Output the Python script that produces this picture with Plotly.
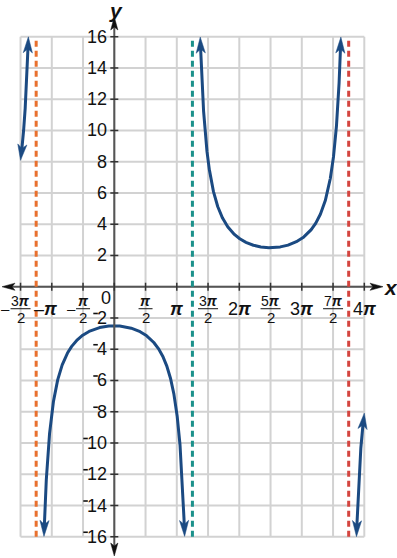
import numpy as np
import plotly.graph_objects as go

# ---------------- data ----------------
PI = np.pi
# function y = A * sec(B * x)
AMPLITUDE = -2.5
FREQ = 0.4
GRID_X_MIN, GRID_X_MAX = -1.5 * PI, 4 * PI
GRID_Y_MIN, GRID_Y_MAX = -16, 16
x_tick_vals = [k * PI / 2 for k in range(-3, 9)]
# (sign, numerator, denominator) ; denominator None => plain label
x_tick_labels = [("-", "3π", "2"), ("-", "π", None), ("-", "π", "2"), ("", "", None),
                 ("", "π", "2"), ("", "π", None), ("", "3π", "2"), ("", "2π", None),
                 ("", "5π", "2"), ("", "3π", None), ("", "7π", "2"), ("", "4π", None)]
y_tick_vals = list(range(-16, 17, 2))
asymptotes = [-1.25 * PI, 1.25 * PI, 3.75 * PI]
asym_colors = ["#e8702e", "#1b918b", "#d4453f"]
segment_domains = [(-1.5 * PI, -1.25 * PI), (-1.25 * PI, 1.25 * PI),
                   (1.25 * PI, 3.75 * PI), (3.75 * PI, 4 * PI)]

# ---------------- layout constants ----------------
W, H = 397, 558
X_RANGE = [-5.745, 14.210]
Y_RANGE = [-17.36, 18.35]
PXX = (X_RANGE[1] - X_RANGE[0]) / W
PXY = (Y_RANGE[1] - Y_RANGE[0]) / H
CURVE = "#1b4a82"
GRID = "#d2d2d2"
AXIS = "#555555"
FONT = "Liberation Sans, Arial, sans-serif"

fig = go.Figure()
shapes = []
ann = []


def to_px(x, y):
    return (np.asarray(x) - X_RANGE[0]) / PXX, (Y_RANGE[1] - np.asarray(y)) / PXY


def to_data(px, py):
    return X_RANGE[0] + px * PXX, Y_RANGE[1] - py * PXY


def arrow_shape(tip_px, dir_px, L, hw, notch, color):
    tx, ty = tip_px
    dx, dy = dir_px
    n = np.hypot(dx, dy)
    dx, dy = dx / n, dy / n
    nx, ny = -dy, dx
    pts = [(tx, ty),
           (tx - L * dx + hw * nx, ty - L * dy + hw * ny),
           (tx - (L - notch) * dx, ty - (L - notch) * dy),
           (tx - L * dx - hw * nx, ty - L * dy - hw * ny)]
    d = []
    for i, (px, py) in enumerate(pts):
        X, Y = to_data(px, py)
        d.append(("M" if i == 0 else "L") + f"{X:.5f},{Y:.5f}")
    return dict(type="path", path=" ".join(d) + " Z", fillcolor=color,
                line=dict(color=color, width=0.5), layer="above")


# grid
for xv in x_tick_vals:
    shapes.append(dict(type="line", x0=xv, x1=xv, y0=GRID_Y_MIN, y1=GRID_Y_MAX,
                       line=dict(color=GRID, width=2), layer="below"))
for yv in y_tick_vals:
    shapes.append(dict(type="line", x0=GRID_X_MIN, x1=GRID_X_MAX, y0=yv, y1=yv,
                       line=dict(color=GRID, width=2), layer="below"))

# axes
ox, oy = to_px(0, 0)
ox, oy = float(ox), float(oy)
x_left_px, x_right_px = 2.0, 383.0
y_top_px, y_bot_px = 17.0, 556.0
xl, _ = to_data(x_left_px + 6, 0)
xr, _ = to_data(x_right_px - 6, 0)
_, yt = to_data(0, y_top_px + 6)
_, yb = to_data(0, y_bot_px - 6)
shapes.append(dict(type="line", x0=xl, x1=xr, y0=0, y1=0, line=dict(color=AXIS, width=2)))
shapes.append(dict(type="line", x0=0, x1=0, y0=yb, y1=yt, line=dict(color=AXIS, width=2)))
for tip, dr in [((x_left_px, oy), (-1, 0)), ((x_right_px, oy), (1, 0)),
                ((ox, y_top_px), (0, -1)), ((ox, y_bot_px), (0, 1))]:
    shapes.append(arrow_shape(tip, dr, 13, 3.6, 3, "#111111"))

# ticks
for xv in x_tick_vals:
    shapes.append(dict(type="line", x0=xv, x1=xv, y0=-4 * PXY, y1=4 * PXY,
                       line=dict(color="#333333", width=1.5)))
for yv in y_tick_vals:
    if yv == 0:
        continue
    shapes.append(dict(type="line", x0=-4 * PXX, x1=4 * PXX, y0=yv, y1=yv,
                       line=dict(color="#333333", width=1.5)))

# asymptotes
for xa, col in zip(asymptotes, asym_colors):
    shapes.append(dict(type="line", x0=xa, x1=xa, y0=GRID_Y_MIN, y1=GRID_Y_MAX,
                       line=dict(color=col, width=3, dash="6px,4px")))

# y tick labels (negative ones get a small raised minus)
DIGIT_W = 10.0
LABEL_RIGHT = 5.0
for yv in y_tick_vals:
    if yv == 0:
        continue
    txt = str(abs(yv))
    ann.append(dict(x=-LABEL_RIGHT * PXX, y=yv, xref="x", yref="y", text=txt, showarrow=False,
                    xanchor="right", yanchor="middle", font=dict(family=FONT, size=18, color="#111")))
    if yv < 0:
        left = LABEL_RIGHT + DIGIT_W * len(txt)
        shapes.append(dict(type="line", x0=-(left + 6) * PXX, x1=-(left + 1.5) * PXX,
                           y0=yv + 4.5 * PXY, y1=yv + 4.5 * PXY,
                           line=dict(color="#111", width=1.6)))
ann.append(dict(x=-8 * PXX, y=-11 * PXY, xref="x", yref="y", text="0", showarrow=False,
                xanchor="center", yanchor="middle", font=dict(family=FONT, size=18, color="#111")))


# x tick labels
def pi_txt(s):
    return s.replace("π", "<b><i>π</i></b>")


for xv, (sign, num, den) in zip(x_tick_vals, x_tick_labels):
    if num == "":
        continue
    if den is None:
        shift = -6 * PXX if sign else 0
        ann.append(dict(x=xv + shift, y=-22 * PXY, xref="x", yref="y",
                        text=("–" if sign else "") + pi_txt(num), showarrow=False,
                        xanchor="center", yanchor="middle",
                        font=dict(family=FONT, size=18, color="#111")))
    else:
        half = 10 if len(num) > 1 else 7
        ann.append(dict(x=xv, y=-14 * PXY, xref="x", yref="y", text=pi_txt(num),
                        showarrow=False, xanchor="center", yanchor="middle",
                        font=dict(family=FONT, size=14, color="#111")))
        ann.append(dict(x=xv, y=-31 * PXY, xref="x", yref="y", text=den,
                        showarrow=False, xanchor="center", yanchor="middle",
                        font=dict(family=FONT, size=15, color="#111")))
        shapes.append(dict(type="line", x0=xv - half * PXX, x1=xv + half * PXX,
                           y0=-22 * PXY, y1=-22 * PXY, line=dict(color="#111", width=1)))
        if sign:
            ann.append(dict(x=xv - (half + 5) * PXX, y=-22 * PXY, xref="x", yref="y", text="–",
                            showarrow=False, xanchor="center", yanchor="middle",
                            font=dict(family=FONT, size=15, color="#111")))

# axis names
ann.append(dict(x=0 + 2 * PXX, y=Y_RANGE[1] - 10 * PXY, xref="x", yref="y",
                text="<b><i>y</i></b>", showarrow=False, xanchor="center", yanchor="middle",
                font=dict(family=FONT, size=21, color="#111")))
ann.append(dict(x=X_RANGE[0] + 391 * PXX, y=-1 * PXY, xref="x", yref="y",
                text="<b><i>x</i></b>", showarrow=False, xanchor="center", yanchor="middle",
                font=dict(family=FONT, size=21, color="#111")))

# curve with arrowheads at both ends
HEAD_L, HEAD_W, HEAD_N = 16, 4.6, 4
for (a, b) in segment_domains:
    xs = np.linspace(a, b, 4000)
    with np.errstate(divide="ignore"):
        ys = AMPLITUDE / np.cos(FREQ * xs)
    keep = np.abs(ys) <= 16
    xs, ys = xs[keep], ys[keep]
    px, py = to_px(xs, ys)
    seg = np.hypot(np.diff(px), np.diff(py))
    s = np.concatenate([[0], np.cumsum(seg)])
    total = s[-1]
    trim = (s >= HEAD_L - 6) & (s <= total - (HEAD_L - 6))
    fig.add_trace(go.Scatter(x=xs[trim], y=ys[trim], mode="lines",
                             line=dict(color=CURVE, width=3),
                             hoverinfo="skip", showlegend=False))
    i0 = np.searchsorted(s, HEAD_L)
    i1 = np.searchsorted(s, total - HEAD_L)
    shapes.append(arrow_shape((px[0], py[0]), (px[0] - px[i0], py[0] - py[i0]),
                              HEAD_L, HEAD_W, HEAD_N, CURVE))
    shapes.append(arrow_shape((px[-1], py[-1]), (px[-1] - px[i1], py[-1] - py[i1]),
                              HEAD_L, HEAD_W, HEAD_N, CURVE))

fig.update_layout(
    width=W, height=H, margin=dict(l=0, r=0, t=0, b=0),
    paper_bgcolor="white", plot_bgcolor="white",
    xaxis=dict(range=X_RANGE, visible=False, fixedrange=True),
    yaxis=dict(range=Y_RANGE, visible=False, fixedrange=True),
    shapes=shapes, annotations=ann, showlegend=False,
)
fig.write_html("out.html")
